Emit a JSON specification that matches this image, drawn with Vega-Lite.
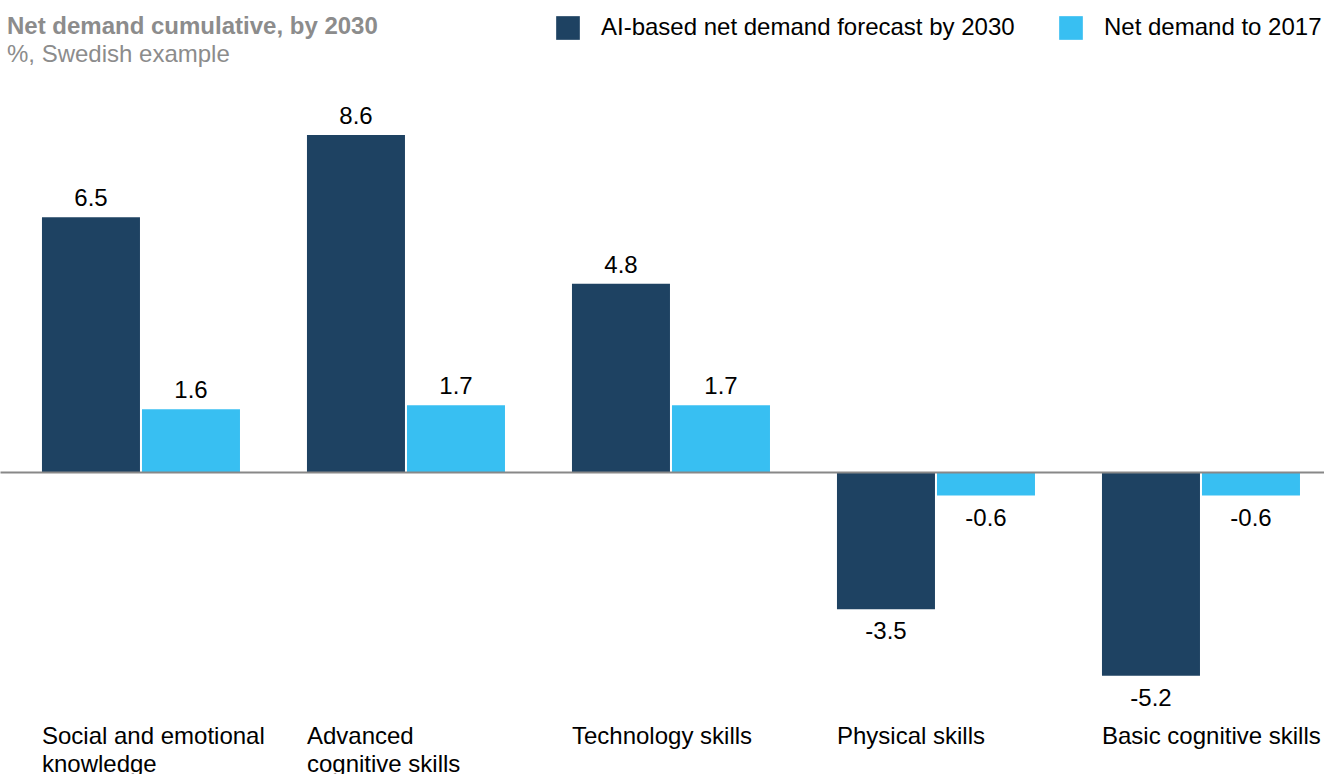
{
  "$schema": "https://vega.github.io/schema/vega-lite/v6.json",
  "width": 1324,
  "height": 774,
  "autosize": {"type": "none"},
  "padding": 0,
  "background": "white",
  "config": {"view": {"stroke": null}, "font": "Liberation Sans"},
  "title": {
    "text": "Net demand cumulative, by 2030",
    "subtitle": "%, Swedish example",
    "anchor": "start",
    "frame": "group",
    "orient": "top",
    "offset": -67,
    "dx": 7,
    "font": "Liberation Sans",
    "fontSize": 24,
    "fontWeight": "bold",
    "color": "#8c8c8c",
    "subtitleFont": "Liberation Sans",
    "subtitleFontSize": 24,
    "subtitleColor": "#8c8c8c",
    "subtitlePadding": 4
  },
  "data": {
    "values": [
      {"skill": "Social and emotional knowledge", "series": "AI-based net demand forecast by 2030", "value": 6.5},
      {"skill": "Social and emotional knowledge", "series": "Net demand to 2017", "value": 1.6},
      {"skill": "Advanced cognitive skills", "series": "AI-based net demand forecast by 2030", "value": 8.6},
      {"skill": "Advanced cognitive skills", "series": "Net demand to 2017", "value": 1.7},
      {"skill": "Technology skills", "series": "AI-based net demand forecast by 2030", "value": 4.8},
      {"skill": "Technology skills", "series": "Net demand to 2017", "value": 1.7},
      {"skill": "Physical skills", "series": "AI-based net demand forecast by 2030", "value": -3.5},
      {"skill": "Physical skills", "series": "Net demand to 2017", "value": -0.6},
      {"skill": "Basic cognitive skills", "series": "AI-based net demand forecast by 2030", "value": -5.2},
      {"skill": "Basic cognitive skills", "series": "Net demand to 2017", "value": -0.6}
    ]
  },
  "encoding": {
    "x": {
      "field": "skill", "type": "nominal",
      "sort": ["Social and emotional knowledge", "Advanced cognitive skills", "Technology skills", "Physical skills", "Basic cognitive skills"],
      "scale": {"paddingInner": 0.2528, "paddingOuter": 0.1245, "align": 0.636},
      "axis": {
        "orient": "bottom", "offset": -50, "domain": false, "ticks": false, "tickSize": 0,
        "labelPadding": 0, "labelAlign": "left", "labelBaseline": "top", "labelOffset": -99,
        "labelFontSize": 24, "labelColor": "#000000", "labelFont": "Liberation Sans",
        "labelLineHeight": 28, "labelLimit": 400, "labelAngle": 0, "labelOverlap": false,
        "labelBound": false, "grid": false, "title": null,
        "labelExpr": "datum.value == 'Social and emotional knowledge' ? ['Social and emotional', 'knowledge'] : datum.value == 'Advanced cognitive skills' ? ['Advanced', 'cognitive skills'] : datum.label"
      }
    },
    "xOffset": {
      "field": "series", "type": "nominal",
      "sort": ["AI-based net demand forecast by 2030", "Net demand to 2017"],
      "scale": {"paddingInner": 0.02, "paddingOuter": 0}
    },
    "y": {
      "field": "value", "type": "quantitative",
      "scale": {"domain": [-7.704, 12.041], "nice": false, "zero": false},
      "axis": {
        "values": [0], "grid": true, "gridColor": "#888888", "gridWidth": 2, "gridOpacity": 1,
        "domain": false, "ticks": false, "labels": false, "title": null, "zindex": 1
      }
    }
  },
  "layer": [
    {
      "mark": {"type": "bar"},
      "encoding": {
        "color": {
          "field": "series", "type": "nominal",
          "scale": {"domain": ["AI-based net demand forecast by 2030", "Net demand to 2017"], "range": ["#1e4262", "#38bff2"]},
          "legend": {
            "orient": "none", "legendX": 556, "legendY": 16, "direction": "horizontal",
            "title": null, "symbolType": "square", "symbolSize": 560, "symbolStrokeWidth": 0,
            "symbolOpacity": 1, "labelFontSize": 24, "labelFont": "Liberation Sans",
            "labelColor": "#000000", "labelOffset": 21, "columnPadding": 44, "padding": 0,
            "labelLimit": 600
          }
        }
      }
    },
    {
      "transform": [{"filter": "datum.value >= 0"}],
      "mark": {"type": "text", "baseline": "alphabetic", "align": "center", "dy": -11, "fontSize": 24, "font": "Liberation Sans", "color": "#000000"},
      "encoding": {
        "text": {"field": "value", "type": "nominal"}
      }
    },
    {
      "transform": [{"filter": "datum.value < 0"}],
      "mark": {"type": "text", "baseline": "alphabetic", "align": "center", "dy": 30, "fontSize": 24, "font": "Liberation Sans", "color": "#000000"},
      "encoding": {
        "text": {"field": "value", "type": "nominal"}
      }
    }
  ]
}
